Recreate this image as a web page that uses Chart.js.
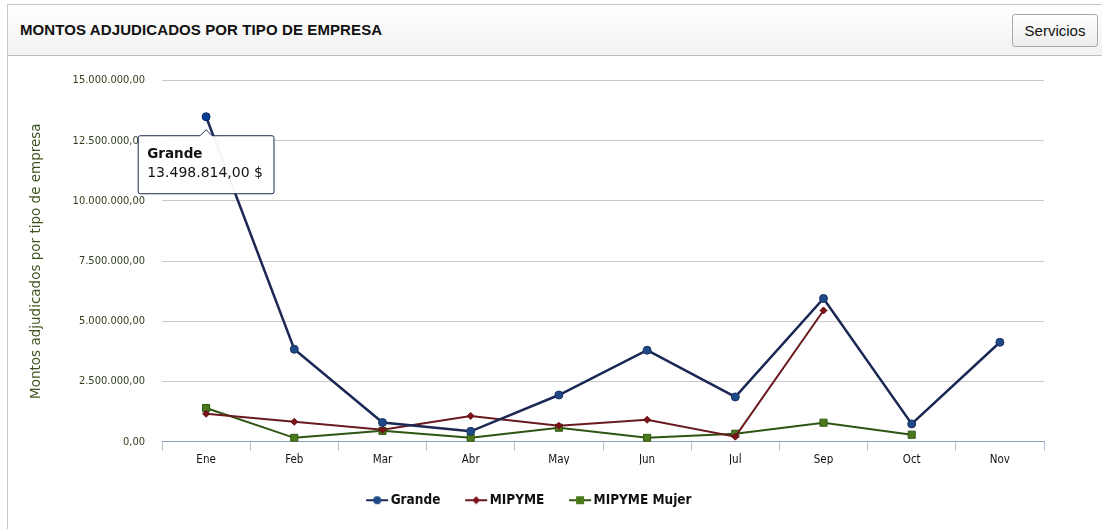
<!DOCTYPE html>
<html>
<head>
<meta charset="utf-8">
<script src="https://cdn.jsdelivr.net/npm/chart.js@4.4.1/dist/chart.umd.min.js"></script>
<style>
  html, body { margin: 0; padding: 0; background: #fff; width: 1102px; height: 529px; overflow: hidden; }
  #panel { position: absolute; left: 7px; top: 4px; width: 1110px; height: 540px; border: 1px solid #c8c8c8; }
  #header { position: absolute; left: 0; top: 0; right: 0; height: 50px; border-bottom: 1px solid #bdbdbd;
            background: linear-gradient(#ffffff, #f2f2f2); }
  #title { position: absolute; left: 12px; top: 16px; font: bold 15px "Liberation Sans", Arial, sans-serif; color: #111; letter-spacing: 0.1px; }
  #btn { position: absolute; left: 1004px; top: 9px; width: 84px; height: 31px; border: 1px solid #a9a9a9; border-radius: 3px;
         background: linear-gradient(#ffffff, #ececec); font: 15px "Liberation Sans", Arial, sans-serif; color: #111;
         line-height: 31px; text-align: center; }
  #chartBox { position: absolute; left: 0; top: 57px; width: 1102px; height: 472px; }
</style>
</head>
<body>
<div id="panel">
  <div id="header">
    <div id="title">MONTOS ADJUDICADOS POR TIPO DE EMPRESA</div>
    <div id="btn">Servicios</div>
  </div>
</div>
<div id="chartBox"><canvas id="montosChart"></canvas></div>
<script>
const meses = ["Ene", "Feb", "Mar", "Abr", "May", "Jun", "Jul", "Sep", "Oct", "Nov"];
const grande = [13498814, 3840000, 800000, 430000, 1940000, 3800000, 1860000, 5950000, 740000, 4130000];
const mipyme = [1160000, 830000, 500000, 1070000, 660000, 910000, 210000, 5450000, null, null];
const mipymeMujer = [1400000, 160000, 450000, 160000, 580000, 160000, 330000, 790000, 290000, null];
const yTicksMax = 15000000;
const yTicksStep = 2500000;

const chartFont = "'DejaVu Sans Condensed', 'DejaVu Sans', sans-serif";
const tipFont = "'DejaVu Sans', sans-serif";

function formatMonto(v) {
    let parts = Number(v).toFixed(2).split('.');
    let ent = parts[0].replace(/\B(?=(\d{3})+(?!\d))/g, '.');
    return ent + ',' + parts[1];
}

// small canvas with a line and the marker, used as legend symbol
function makeLegendIcon(lineColor, fillColor, style) {
    const c = document.createElement('canvas');
    c.width = 24; c.height = 12;
    const g = c.getContext('2d');
    g.strokeStyle = lineColor;
    g.lineWidth = 2;
    g.beginPath(); g.moveTo(1, 6); g.lineTo(23, 6); g.stroke();
    g.fillStyle = fillColor;
    g.beginPath();
    if (style == 'circle') {
        g.arc(12, 6, 4, 0, Math.PI * 2);
    } else if (style == 'diamond') {
        g.moveTo(12, 2); g.lineTo(16, 6); g.lineTo(12, 10); g.lineTo(8, 6); g.closePath();
    } else {
        g.rect(8, 2, 8, 8);
    }
    g.fill();
    return c;
}

const icons = [
    makeLegendIcon('#1b2754', '#1f4a8a', 'circle'),
    makeLegendIcon('#6a1a1e', '#7a1218', 'diamond'),
    makeLegendIcon('#2f5512', '#4a7a1c', 'rect')
];

var ctx = document.getElementById('montosChart').getContext('2d');
var montosChart = new Chart(ctx, {
    type: 'line',
    data: {
        labels: meses,
        datasets: [{
            label: 'Grande',
            data: grande,
            borderColor: '#1b2754',
            backgroundColor: '#1f4a8a',
            pointBorderColor: '#1b2f60',
            pointBackgroundColor: '#1f4a8a',
            borderWidth: 2.5,
            pointStyle: 'circle',
            pointRadius: 4,
            pointHoverRadius: 4,
            pointBorderWidth: 1
        }, {
            label: 'MIPYME',
            data: mipyme,
            borderColor: '#6a1a1e',
            backgroundColor: '#7a1218',
            pointBorderColor: '#6a1018',
            pointBackgroundColor: '#7a1218',
            borderWidth: 2,
            pointStyle: 'rectRot',
            pointRadius: 3.5,
            pointHoverRadius: 3.5,
            pointBorderWidth: 1
        }, {
            label: 'MIPYME Mujer',
            data: mipymeMujer,
            borderColor: '#2f5512',
            backgroundColor: '#4a7a1c',
            pointBorderColor: '#2f5512',
            pointBackgroundColor: '#4a7a1c',
            borderWidth: 2,
            pointStyle: 'rect',
            pointRadius: 5,
            pointHoverRadius: 5,
            pointBorderWidth: 1
        }]
    },
    options: {
        responsive: true,
        maintainAspectRatio: false,
        animation: false,
        events: [],
        layout: { padding: { left: 18, right: 58, top: 21, bottom: 12 } },
        scales: {
            x: {
                offset: true,
                afterFit: function(scale) { scale.height -= 4; },
                grid: { offset: true, drawOnChartArea: false, drawTicks: true, tickLength: 9, color: '#b5c1d3' },
                border: { color: '#8c9db5' },
                ticks: { color: '#111', font: { family: chartFont, size: 11.5 }, padding: 2 }
            },
            y: {
                min: 0,
                max: yTicksMax,
                afterFit: function(scale) { scale.width = 144; },
                ticks: {
                    stepSize: yTicksStep,
                    color: '#33401f',
                    padding: 17,
                    font: { family: chartFont, size: 11 },
                    callback: function(v) { return formatMonto(v); }
                },
                grid: { color: '#c9c9c9', drawTicks: false },
                border: { display: false },
                title: {
                    display: true,
                    text: 'Montos adjudicados por tipo de empresa',
                    color: '#3e5420',
                    font: { family: tipFont, size: 13.5 },
                    padding: { top: 10, bottom: 4 }
                }
            }
        },
        plugins: {
            legend: {
                position: 'bottom',
                labels: {
                    usePointStyle: true,
                    color: '#111',
                    padding: 29,
                    font: { family: chartFont, size: 13.5, weight: 'bold' },
                    generateLabels: function(chart) {
                        let items = Chart.defaults.plugins.legend.labels.generateLabels(chart);
                        for (let i = 0; i < items.length; i++) {
                            items[i].pointStyle = icons[i];
                        }
                        return items;
                    }
                }
            },
            tooltip: {
                backgroundColor: 'rgba(255,255,255,0.96)',
                titleColor: '#111',
                bodyColor: '#111',
                borderColor: '#1b2754',
                borderWidth: 1,
                cornerRadius: 2,
                caretSize: 6,
                caretPadding: 13,
                xAlign: 'center',
                yAlign: 'top',
                displayColors: false,
                padding: { left: 9, right: 11, top: 11, bottom: 12 },
                titleMarginBottom: 2,
                titleFont: { family: tipFont, size: 13.5, weight: 'bold' },
                bodyFont: { family: tipFont, size: 14 },
                callbacks: {
                    title: function(items) { return items[0].dataset.label; },
                    label: function(item) { return formatMonto(item.raw) + ' $'; }
                }
            }
        }
    }
});

const activos = [{ datasetIndex: 0, index: 0 }];
montosChart.setActiveElements(activos);
montosChart.tooltip.setActiveElements(activos, { x: 0, y: 0 });
montosChart.update();
</script>
</body>
</html>
